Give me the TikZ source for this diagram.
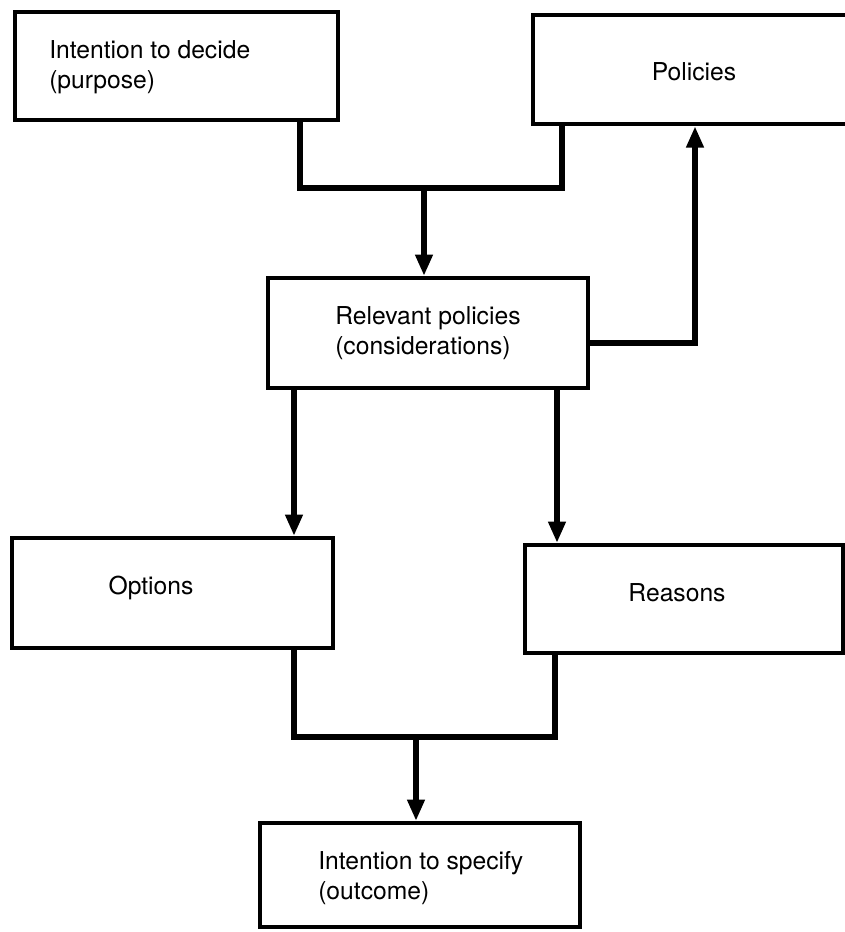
\documentclass[tikz,border=0pt]{standalone}
\usepackage{fontspec}
\setmainfont{TeX Gyre Heros}
\usetikzlibrary{arrows.meta}

\tikzset{
	box/.style={draw, line width=3.2pt, line join=miter, inner sep=0pt},
	txt/.style={inner sep=0pt, align=left, font=\fontsize{18.5}{22.5}\selectfont},
	conn/.style={line width=5pt, line join=miter},
	arr/.style={conn, -{Triangle[length=16pt,width=12.5pt]}}
}

\begin{document}
\begin{tikzpicture}[x=0.75pt,y=0.75pt,yscale=-1]
	\useasboundingbox (0,0) rectangle (845,932);

	%Shape: Rectangle [decide]
	\node[box, minimum width=242pt, minimum height=81pt] (decide) at (176.5,66) {};
	%Shape: Rectangle [policies]
	\node[box, minimum width=238pt, minimum height=82pt] (policies) at (691.5,69.5) {};
	%Shape: Rectangle [relevant]
	\node[box, minimum width=240pt, minimum height=82.5pt] (relevant) at (428,333) {};
	%Shape: Rectangle [options]
	\node[box, minimum width=241pt, minimum height=82.5pt] (options) at (172.5,593) {};
	%Shape: Rectangle [reasons]
	\node[box, minimum width=238.5pt, minimum height=81pt] (reasons) at (684,599) {};
	%Shape: Rectangle [specify]
	\node[box, minimum width=240pt, minimum height=78pt] (specify) at (420,875) {};

	% Text Node
	\node[txt, anchor=west] (decidetext) at (49,67.5) {Intention to decide\\(purpose)};
	% Text Node
	\node[txt] (policiestext) at (694,72) {Policies};
	% Text Node
	\node[txt, anchor=west] (relevanttext) at (335,333) {Relevant policies\\(considerations)};
	% Text Node
	\node[txt] (optionstext) at (151,588) {Options};
	% Text Node
	\node[txt] (reasonstext) at (677,593) {Reasons};
	% Text Node
	\node[txt, anchor=west] (specifytext) at (318,878) {Intention to specify\\(outcome)};

	% junctions
	\coordinate (topleft) at (300,188);
	\coordinate (topright) at (562,188);
	\coordinate (topmid) at (424,188);
	\coordinate (back) at (695,343);
	\coordinate (downleft) at (294,0);
	\coordinate (downright) at (557,0);
	\coordinate (lowleft) at (294,737);
	\coordinate (lowright) at (555,737);
	\coordinate (lowmid) at (416,737);

	%Straight Lines
	\draw[conn] (decide.south -| topleft) -- (topleft) -- (topright) -- (policies.south -| topright);
	\draw[arr] (topmid) -- (relevant.north -| topmid);
	%Straight Lines
	\draw[arr] (relevant.east |- back) -- (back) -- (policies.south -| back);
	%Straight Lines
	\draw[arr] (relevant.south -| downleft) -- (options.north -| downleft);
	\draw[arr] (relevant.south -| downright) -- (reasons.north -| downright);
	%Straight Lines
	\draw[conn] (options.south -| lowleft) -- (lowleft) -- (lowright) -- (reasons.south -| lowright);
	\draw[arr] (lowmid) -- (specify.north -| lowmid);

\end{tikzpicture}
\end{document}
